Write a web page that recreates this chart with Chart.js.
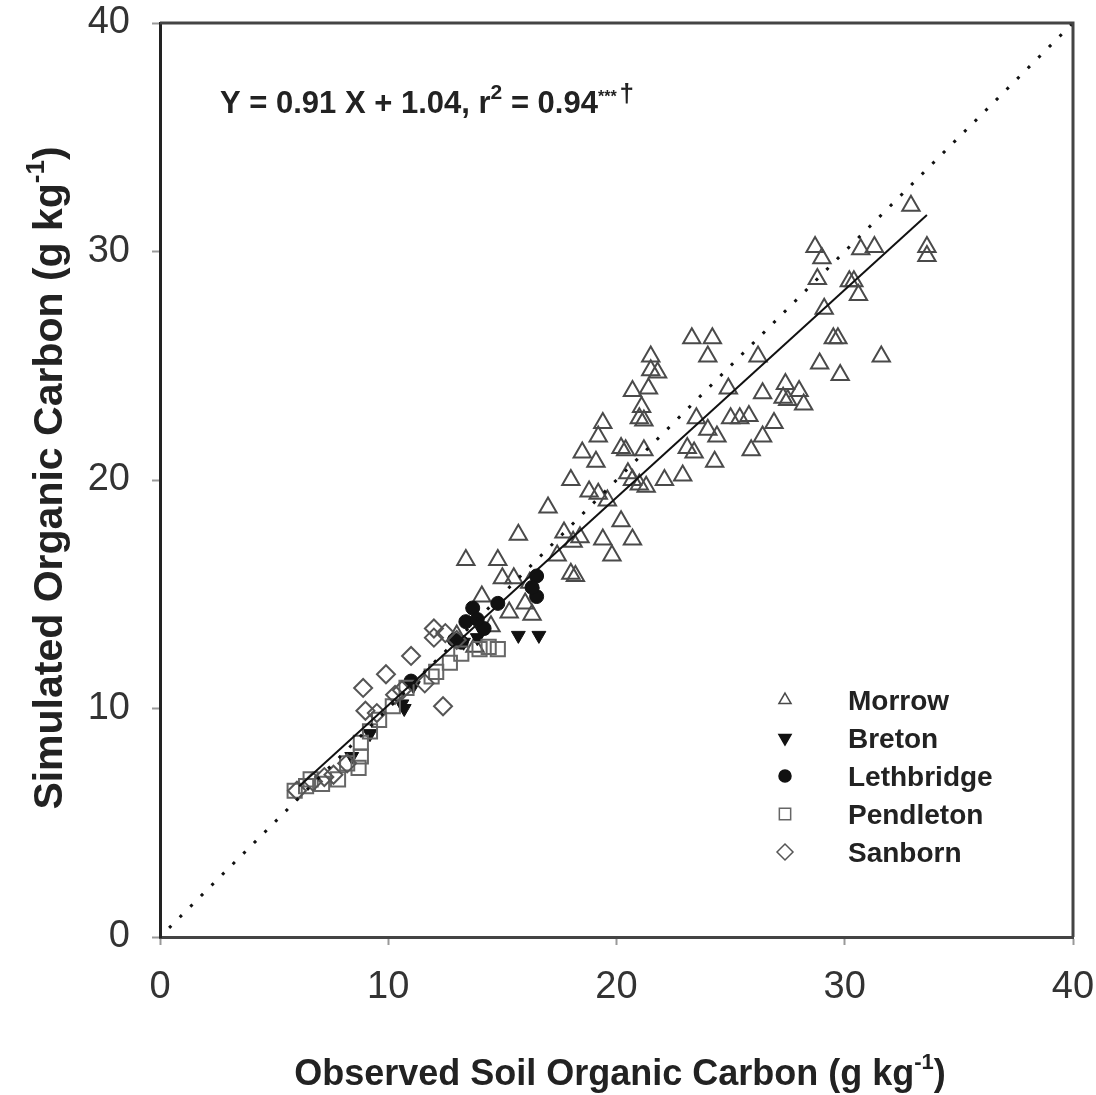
<!DOCTYPE html>
<html>
<head>
<meta charset="utf-8">
<script src="https://cdn.jsdelivr.net/npm/chart.js@4.4.1/dist/chart.umd.min.js"></script>
<style>
  html, body { margin: 0; padding: 0; background: #fff; }
  #wrap { width: 1096px; height: 1095px; }
</style>
</head>
<body>
<div id="wrap"><canvas id="chart" width="1096" height="1095"></canvas></div>
<script>
// --- data (x = observed, y = simulated, g/kg) ---
const morrow = [
  [32.9,32.0],[33.6,30.2],[33.6,29.8],[28.7,30.2],[29.0,29.7],[30.7,30.1],[31.3,30.2],
  [28.8,28.8],[30.2,28.7],[30.4,28.7],[30.6,28.1],[29.1,27.5],[29.7,26.2],[31.6,25.4],
  [28.9,25.1],[29.8,24.6],[27.4,24.2],[28.0,23.9],[27.3,23.6],[28.2,23.3],[26.4,23.8],
  [26.9,22.5],[26.4,21.9],[27.5,23.5],[23.3,26.2],[24.2,26.2],[24.0,25.4],[21.5,25.4],
  [21.8,24.7],[21.5,24.8],[20.7,23.9],[21.4,24.0],[21.1,23.2],[21.0,22.7],[21.2,22.6],
  [19.4,22.5],[19.2,21.9],[18.5,21.2],[19.1,20.8],[20.2,21.4],[20.4,21.3],[21.2,21.3],
  [18.0,20.0],[17.0,18.8],[18.8,19.5],[19.2,19.4],[19.6,19.1],[20.5,20.3],[20.7,20.0],
  [21.0,19.8],[21.3,19.7],[22.1,20.0],[22.9,20.2],[20.2,18.2],[19.4,17.4],[20.7,17.4],
  [19.8,16.7],[18.4,17.5],[23.1,21.4],[23.4,21.2],[24.3,20.8],[24.4,21.9],[24.0,22.2],
  [23.5,22.7],[25.0,22.7],[25.4,22.7],[25.8,22.8],[25.9,21.3],[24.9,24.0],[26.2,25.4],
  [29.5,26.2],[15.7,17.6],[13.4,16.5],[14.8,16.5],[15.0,15.7],[15.5,15.7],[18.0,15.9],
  [18.2,15.8],[14.1,14.9],[15.3,14.2],[16.3,14.1],[16.0,14.6],[17.4,16.7],[16.2,15.5],
  [13.8,12.7],[14.5,13.6],[13.0,13.2],[17.7,17.7],[18.1,17.3]
];
const breton = [
  [15.7,13.2],[16.6,13.2],[14.1,13.4],[13.3,12.9],[13.9,13.1],[11.1,11.0],[10.6,10.2],
  [10.7,10.0],[9.2,8.9],[8.4,7.9]
];
const lethbridge = [
  [16.5,15.8],[16.5,14.9],[16.3,15.3],[14.8,14.6],[13.7,14.4],[13.4,13.8],[14.2,13.5],
  [13.2,12.9],[11.0,11.2],[13.9,13.9],[12.9,13.0]
];
const pendleton = [
  [14.8,12.6],[14.0,12.6],[14.4,12.7],[12.7,12.0],[11.9,11.4],[10.8,10.9],[10.2,10.1],
  [9.6,9.5],[9.2,9.0],[8.8,8.5],[8.7,7.4],[8.8,7.9],[8.2,7.6],[7.8,6.9],[7.1,6.7],
  [6.4,6.6],[5.9,6.4],[6.6,6.9],[13.2,12.4],[12.1,11.6]
];
const sanborn = [
  [12.0,13.5],[12.0,13.1],[12.5,13.3],[11.0,12.3],[9.9,11.5],[8.9,10.9],[9.0,9.9],
  [12.4,10.1],[6.0,6.4],[6.7,6.8],[7.2,7.0],[7.6,7.1],[8.2,7.6],[9.5,9.8],[10.3,10.6],
  [11.6,11.1],[10.6,10.8],[13.0,13.0]
];
const fitLine = [[6.1,6.6],[33.6,31.6]];   // Y = 0.91 X + 1.04
const oneToOne = [[0.4,0.4],[40,40]];
const xTicks = [0,10,20,30,40];
const yTicks = [0,10,20,30,40];
const seriesNames = ["Morrow","Breton","Lethbridge","Pendleton","Sanborn"];

const toXY = arr => arr.map(p => ({ x: p[0], y: p[1] }));
const FONT = "'Liberation Sans', Arial, sans-serif";

// marker look per site
const styles = [
  { pointStyle: "triangle", radius: 10, rotation: 0, fill: "rgba(0,0,0,0)", stroke: "#4a4a4a", bw: 2, legR: 7 },
  { pointStyle: "triangle", radius: 8, rotation: 180, fill: "#111", stroke: "#111", bw: 1, legR: 7 },
  { pointStyle: "circle", radius: 7, rotation: 0, fill: "#111", stroke: "#111", bw: 1, legR: 6 },
  { pointStyle: "rect", radius: 10, rotation: 0, fill: "rgba(0,0,0,0)", stroke: "#666", bw: 2, legR: 8 },
  { pointStyle: "rectRot", radius: 9, rotation: 0, fill: "rgba(0,0,0,0)", stroke: "#555", bw: 2, legR: 8 }
];
const seriesData = [morrow, breton, lethbridge, pendleton, sanborn];

const datasets = seriesData.map((d, i) => ({
  label: seriesNames[i],
  data: toXY(d),
  pointStyle: styles[i].pointStyle,
  pointRadius: styles[i].radius,
  rotation: styles[i].rotation,
  backgroundColor: styles[i].fill,
  borderColor: styles[i].stroke,
  borderWidth: styles[i].bw,
  order: 5 - i
}));
datasets.push({
  label: "fit", data: toXY(fitLine), showLine: true, pointRadius: 0,
  borderColor: "#111", borderWidth: 2, order: 0
});
datasets.push({
  label: "1:1", data: toXY(oneToOne), showLine: true, pointRadius: 0,
  borderColor: "#111", borderWidth: 3, borderDash: [3, 12], order: 0
});

// text with superscripts, drawn left to right
function drawRich(ctx, parts, x, y) {
  let cx = x;
  parts.forEach(p => {
    ctx.font = (p.bold ? "bold " : "") + p.size + "px " + FONT;
    ctx.fillText(p.text, cx, y - (p.dy || 0));
    cx += ctx.measureText(p.text).width + (p.gap || 0);
  });
  return cx - x;
}
function richWidth(ctx, parts) {
  let w = 0;
  parts.forEach(p => {
    ctx.font = (p.bold ? "bold " : "") + p.size + "px " + FONT;
    w += ctx.measureText(p.text).width + (p.gap || 0);
  });
  return w;
}

const extras = {
  id: "extras",
  afterDraw(chart) {
    const ctx = chart.ctx;
    const a = chart.chartArea;
    ctx.save();
    // frame top + right
    ctx.strokeStyle = "#444";
    ctx.lineWidth = 3;
    ctx.beginPath();
    ctx.moveTo(a.left, a.top);
    ctx.lineTo(a.right, a.top);
    ctx.lineTo(a.right, a.bottom);
    ctx.stroke();

    ctx.fillStyle = "#222";
    ctx.textBaseline = "alphabetic";
    ctx.textAlign = "left";

    // x title
    const xt = [
      { text: "Observed Soil Organic Carbon (g kg", size: 36, bold: true },
      { text: "-1", size: 22, bold: true, dy: 16 },
      { text: ")", size: 36, bold: true }
    ];
    const xw = richWidth(ctx, xt);
    drawRich(ctx, xt, 620 - xw / 2, 1085);

    // y title
    const yt = [
      { text: "Simulated Organic Carbon (g kg", size: 41, bold: true },
      { text: "-1", size: 26, bold: true, dy: 18 },
      { text: ")", size: 41, bold: true }
    ];
    const yw = richWidth(ctx, yt);
    ctx.save();
    ctx.translate(62, 478);
    ctx.rotate(-Math.PI / 2);
    drawRich(ctx, yt, -yw / 2, 0);
    ctx.restore();

    // regression note
    drawRich(ctx, [
      { text: "Y = 0.91 X + 1.04, r", size: 31, bold: true },
      { text: "2", size: 21, bold: true, dy: 14 },
      { text: " = 0.94", size: 31, bold: true },
      { text: "***", size: 16, bold: true, dy: 11, gap: 3 },
      { text: "\u2020", size: 26, bold: true, dy: 11 }
    ], 220, 113);

    // legend
    seriesNames.forEach((name, i) => {
      const cy = 700 + i * 38;
      const s = styles[i];
      ctx.fillStyle = s.fill;
      ctx.strokeStyle = s.stroke;
      ctx.lineWidth = 1.5;
      Chart.helpers.drawPoint(ctx, {
        pointStyle: s.pointStyle, radius: s.legR, rotation: s.rotation, borderWidth: 1.5
      }, 785, cy);
      ctx.fillStyle = "#222";
      ctx.font = "bold 28px " + FONT;
      ctx.fillText(name, 848, cy + 10);
    });
    ctx.restore();
  }
};

new Chart(document.getElementById("chart"), {
  type: "scatter",
  data: { datasets },
  options: {
    responsive: false,
    animation: false,
    devicePixelRatio: 1,
    layout: { padding: { top: 23, right: 23, left: 0, bottom: 0 } },
    plugins: { legend: { display: false }, tooltip: { enabled: false } },
    scales: {
      x: {
        type: "linear", min: 0, max: 40,
        afterBuildTicks: s => { s.ticks = xTicks.map(v => ({ value: v })); },
        afterFit: s => { s.height = 158; s.paddingLeft = 0; s.paddingRight = 0; },
        ticks: { color: "#333", font: { size: 38, family: FONT }, padding: 20, maxRotation: 0 },
        grid: { drawOnChartArea: false, tickLength: 8, color: "#999", tickWidth: 2 },
        border: { color: "#444", width: 3 }
      },
      y: {
        type: "linear", min: 0, max: 40,
        afterBuildTicks: s => { s.ticks = yTicks.map(v => ({ value: v })); },
        afterFit: s => { s.width = 160; s.paddingTop = 0; s.paddingBottom = 0; },
        ticks: { color: "#333", font: { size: 38, family: FONT }, padding: 22 },
        grid: { drawOnChartArea: false, tickLength: 8, color: "#999", tickWidth: 2 },
        border: { color: "#222", width: 3 }
      }
    }
  },
  plugins: [extras]
});
</script>
</body>
</html>
